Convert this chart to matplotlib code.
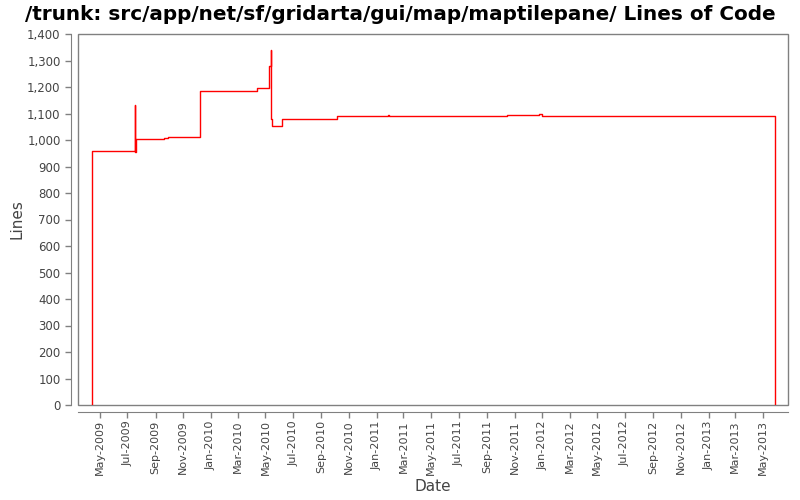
import matplotlib
matplotlib.use("Agg")
import matplotlib.pyplot as plt
import matplotlib.dates as mdates
from matplotlib.ticker import FuncFormatter, MultipleLocator
from matplotlib.patches import Rectangle
import pandas as pd

# lines of code over time
dates = ["2009-04-13", "2009-04-13", "2009-07-17", "2009-07-18", "2009-07-18",
         "2009-07-19", "2009-09-19", "2009-09-28", "2009-12-07", "2010-04-12",
         "2010-05-09", "2010-05-13", "2010-05-13", "2010-05-15", "2010-06-06",
         "2010-10-06", "2011-01-26", "2011-01-27", "2011-10-14", "2011-12-24",
         "2012-01-01", "2013-05-27", "2013-05-27"]
lines = [0, 957, 962, 1131, 953,
         1003, 1006, 1010, 1184, 1198,
         1278, 1339, 1081, 1051, 1078,
         1090, 1094, 1090, 1093, 1097,
         1090, 1090, 0]

title = "/trunk: src/app/net/sf/gridarta/gui/map/maptilepane/ Lines of Code"
x_start, x_end = "2009-03-14", "2013-06-25"

dates = pd.to_datetime(dates)
txt = "#444444"
grey = "#808080"

fig = plt.figure(figsize=(8, 5), dpi=100)
ax = fig.add_axes([0.0975, 0.19, 0.8875, 0.742])

ax.plot(dates, lines, color="red", linewidth=1, drawstyle="steps-post")

ax.set_xlim(pd.Timestamp(x_start), pd.Timestamp(x_end))
ax.set_ylim(0, 1400)

ax.yaxis.set_major_locator(MultipleLocator(100))
ax.yaxis.set_major_formatter(FuncFormatter(lambda v, p: f"{int(v):,}"))
ax.xaxis.set_major_locator(mdates.MonthLocator(bymonth=[1, 3, 5, 7, 9, 11]))
ax.xaxis.set_major_formatter(mdates.DateFormatter("%b-%Y"))

for s in ["top", "right"]:
    ax.spines[s].set_visible(False)
for s in ["left", "bottom"]:
    ax.spines[s].set_position(("outward", 5))
    ax.spines[s].set_color(grey)
ax.add_patch(Rectangle((0, 0), 1, 1, transform=ax.transAxes, fill=False,
                       edgecolor=grey, linewidth=1, clip_on=False))

ax.tick_params(axis="both", colors=grey, labelcolor=txt, labelsize=8.5,
               length=4, width=1)
ax.tick_params(axis="x", labelsize=8, pad=2)
plt.setp(ax.get_xticklabels(), rotation=90)

ax.set_ylabel("Lines", fontsize=11, color=txt)
ax.yaxis.set_label_coords(-0.075, 0.5)
ax.set_xlabel("Date", fontsize=11, color=txt)
ax.xaxis.set_label_coords(0.5, -0.2)
fig.text(0.5, 0.972, title, fontsize=14.4, fontweight="bold",
         ha="center", va="center")

fig.savefig("out.png", dpi=100)
